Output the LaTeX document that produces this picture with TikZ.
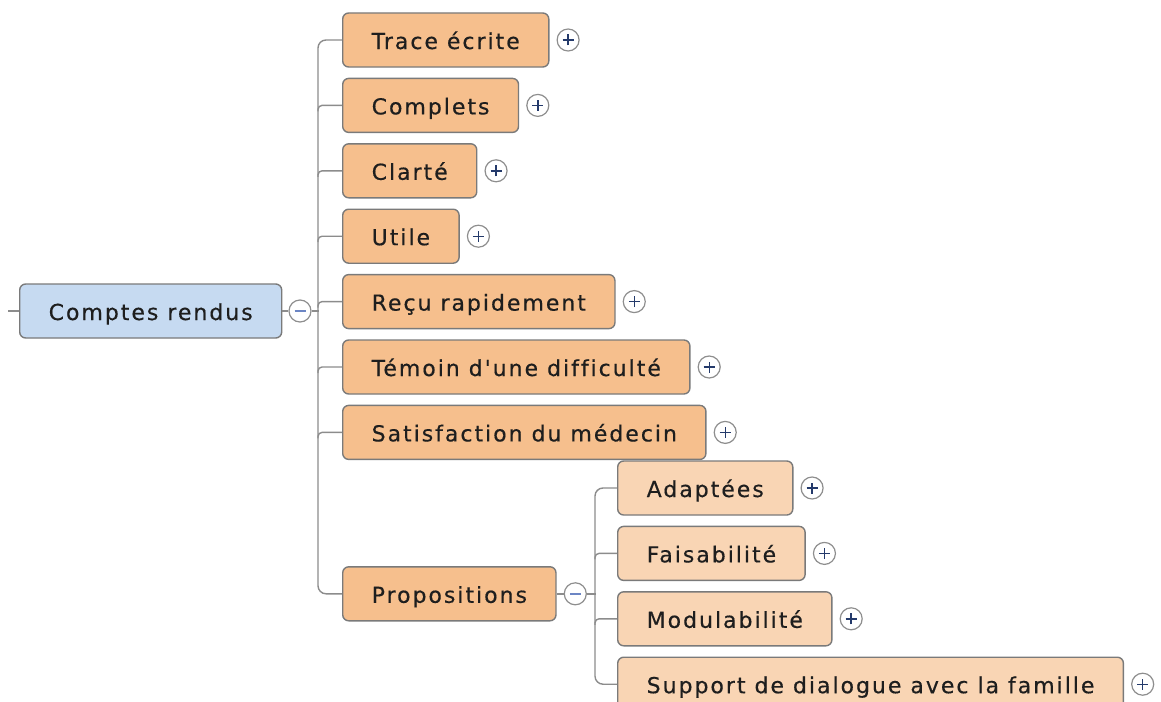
\documentclass[tikz,border=0pt]{standalone}
\usepackage{fontspec}
\setmainfont{DejaVu Sans}[LetterSpace=9, Ligatures={TeXOff,CommonOff}, FakeBold=0.4]
\usepackage{tikz}
\usetikzlibrary{positioning}
\definecolor{boxline}{HTML}{7A7A7A}
\definecolor{linkgray}{HTML}{8C8C8C}
\definecolor{textdark}{HTML}{1E1E1E}
\definecolor{rootblue}{HTML}{C6DAF1}
\definecolor{suborange}{HTML}{F6BF8D}
\definecolor{leaforange}{HTML}{F9D5B4}
\definecolor{knobline}{HTML}{8E8E8E}
\definecolor{knobplus}{HTML}{243A6B}
\definecolor{knobminus}{HTML}{6C86C4}
\tikzset{
    topic/.style={
      rectangle,
      rounded corners=6pt,
      draw=boxline, line width=1.4pt,
      minimum height=54pt,
      inner xsep=29pt, inner ysep=0pt,
      text height=22pt, text depth=4pt,
      font=\fontsize{22}{26}\selectfont,
      text=textdark,
    },
    roottopic/.style={topic, fill=rootblue},
    subtopic/.style={topic, fill=suborange},
    leaftopic/.style={topic, fill=leaforange},
    plusknob/.style={
      circle, draw=knobline, fill=white, line width=1.2pt,
      minimum size=22pt, inner sep=0pt,
      path picture={
        \draw[knobplus, line width=1.4pt]
          ([xshift=-5.5pt]path picture bounding box.center) -- ++(11,0)
          ([yshift=-5.5pt]path picture bounding box.center) -- ++(0,-11);
      },
    },
    minusknob/.style={
      circle, draw=knobline, fill=white, line width=1.2pt,
      minimum size=22pt, inner sep=0pt,
      path picture={
        \draw[knobminus, line width=1.4pt]
          ([xshift=-5.5pt]path picture bounding box.center) -- ++(11,0);
      },
    },
    link/.style={draw=linkgray, line width=1.4pt},
}

\begin{document}
\begin{tikzpicture}[x=1pt, y=-1pt]
    \useasboundingbox (0,0) rectangle (1161,701);

    \node[roottopic, anchor=west] (root) at (19,311) {Comptes rendus};
    \node[minusknob, right=6pt of root.east, anchor=west] (rootknob) {};
    \coordinate (rootin) at (8,311);

    % first level
    \node[subtopic, anchor=west] (trace) at (342,40) {Trace écrite};
    \node[subtopic, below=10pt of trace.south west, anchor=north west] (complets) {Complets};
    \node[subtopic, below=10pt of complets.south west, anchor=north west] (clarte) {Clarté};
    \node[subtopic, below=10pt of clarte.south west, anchor=north west] (utile) {Utile};
    \node[subtopic, below=10pt of utile.south west, anchor=north west] (recu) {Reçu rapidement};
    \node[subtopic, below=10pt of recu.south west, anchor=north west] (temoin) {Témoin d'une difficulté};
    \node[subtopic, below=10pt of temoin.south west, anchor=north west] (satis) {Satisfaction du médecin};
    \node[subtopic, below=106pt of satis.south west, anchor=north west] (prop) {Propositions};
    \node[minusknob, right=7pt of prop.east, anchor=west] (propknob) {};

    % second level
    \node[leaftopic, anchor=west] (adapt) at (617,488) {Adaptées};
    \node[leaftopic, below=10pt of adapt.south west, anchor=north west] (faisa) {Faisabilité};
    \node[leaftopic, below=10pt of faisa.south west, anchor=north west] (modul) {Modulabilité};
    \node[leaftopic, below=10pt of modul.south west, anchor=north west] (support) {Support de dialogue avec la famille};

    \foreach \n in {trace,complets,clarte,utile,recu,temoin,satis,adapt,faisa,modul,support}
      \node[plusknob, right=7pt of \n.east, anchor=west] (\n knob) {};

    \path[link]
    (rootin) edge (root.west)
    (root.east) edge (rootknob.west)
    (rootknob.east) edge ++(7,0)
    (prop.east) edge (propknob.west)
    (propknob.east) edge ++(9,0);

    \draw[link, rounded corners=8pt] (trace.west) -- ++(-24,0) |- (prop.west);
    \foreach \n in {complets,clarte,utile,recu,temoin,satis}
      \draw[link, rounded corners=4pt] (\n.west) -- ++(-24,0) -- ++(0,6);

    \draw[link, rounded corners=8pt] (adapt.west) -- ++(-22,0) |- (support.west);
    \foreach \n in {faisa,modul}
      \draw[link, rounded corners=4pt] (\n.west) -- ++(-22,0) -- ++(0,6);

\end{tikzpicture}
\end{document}
